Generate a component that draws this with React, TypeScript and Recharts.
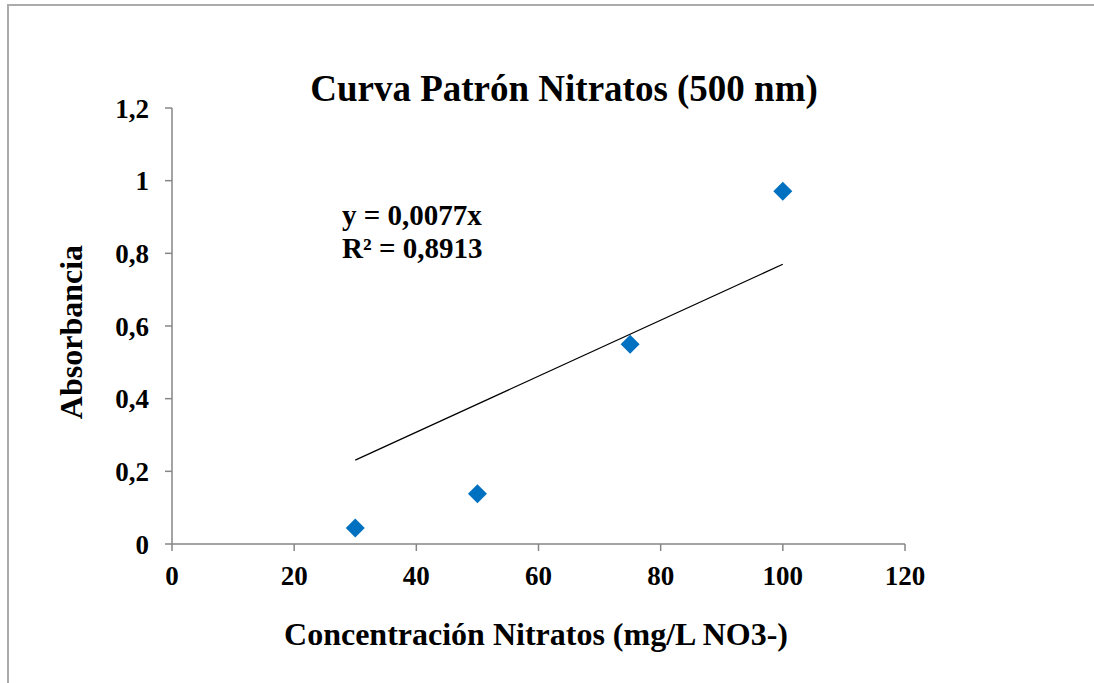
import { ScatterChart, Scatter, XAxis, YAxis } from 'recharts'

const concentrations = [30, 50, 75, 100]
const absorbances = [0.044, 0.138, 0.55, 0.971]

// trendline end points (y = 0,0077x)
const trendX = [30, 100]
const trendY = [0.231, 0.77]

const xTicks = [0, 20, 40, 60, 80, 100, 120]
const yTicks = [0, 0.2, 0.4, 0.6, 0.8, 1, 1.2]

const points = concentrations.map((x, i) => ({ x, y: absorbances[i] }))
const trend = trendX.map((x, i) => ({ x, y: trendY[i] }))

const FONT = '"Liberation Serif", "Times New Roman", serif'
const AXIS = '#868686'

const fmtComma = (v: number) => String(v).replace('.', ',')

const Diamond = (props: any) => {
  const { cx, cy } = props
  const r = 9.5
  return (
    <polygon
      points={`${cx},${cy - r} ${cx + r},${cy} ${cx},${cy + r} ${cx - r},${cy}`}
      fill="#0070C0"
    />
  )
}

const NoDot = () => <g />

export default function App() {
  const tickStyle = { fontSize: 27, fontWeight: 700, fill: '#000', fontFamily: FONT }
  return (
    <div style={{ position: 'relative', width: 1094, height: 683, background: '#fff', overflow: 'hidden' }}>
      <style>{`html,body{margin:0;overflow:hidden;background:#fff}`}</style>
      <ScatterChart
        width={1094}
        height={683}
        margin={{ top: 108, right: 189, left: 0, bottom: 79 }}
        style={{ position: 'absolute', left: 0, top: 0 }}
      >
        <XAxis
          type="number"
          dataKey="x"
          domain={[0, 120]}
          ticks={xTicks}
          interval={0}
          height={60}
          stroke={AXIS}
          tickSize={7}
          tickMargin={15}
          tick={tickStyle}
          axisLine={{ stroke: AXIS, strokeWidth: 1.5 }}
          tickLine={{ stroke: AXIS, strokeWidth: 1.5 }}
        />
        <YAxis
          type="number"
          dataKey="y"
          domain={[0, 1.2]}
          ticks={yTicks}
          interval={0}
          width={172}
          tickFormatter={fmtComma}
          stroke={AXIS}
          tickSize={7}
          tickMargin={16}
          tick={tickStyle}
          axisLine={{ stroke: AXIS, strokeWidth: 1.5 }}
          tickLine={{ stroke: AXIS, strokeWidth: 1.5 }}
        />
        <Scatter
          data={trend}
          line={{ stroke: '#000', strokeWidth: 1.3 }}
          shape={NoDot}
          isAnimationActive={false}
        />
        <Scatter data={points} shape={Diamond} isAnimationActive={false} />
      </ScatterChart>
      <svg
        width={1094}
        height={683}
        style={{ position: 'absolute', left: 0, top: 0, pointerEvents: 'none' }}
        fontFamily={FONT}
        fontWeight={700}
      >
        <path d="M8 683 V5 H1094" fill="none" stroke="#ababab" strokeWidth={2} />
        <text x={564} y={101} fontSize={37} textAnchor="middle">Curva Patrón Nitratos (500 nm)</text>
        <text x={536} y={645} fontSize={32} textAnchor="middle">Concentración Nitratos (mg/L NO3-)</text>
        <text x={82} y={332} fontSize={32} textAnchor="middle" transform="rotate(-90 82 332)">Absorbancia</text>
        <text x={342} y={225} fontSize={29}>y = 0,0077x</text>
        <text x={342} y={258} fontSize={29}>R² = 0,8913</text>
      </svg>
    </div>
  )
}
